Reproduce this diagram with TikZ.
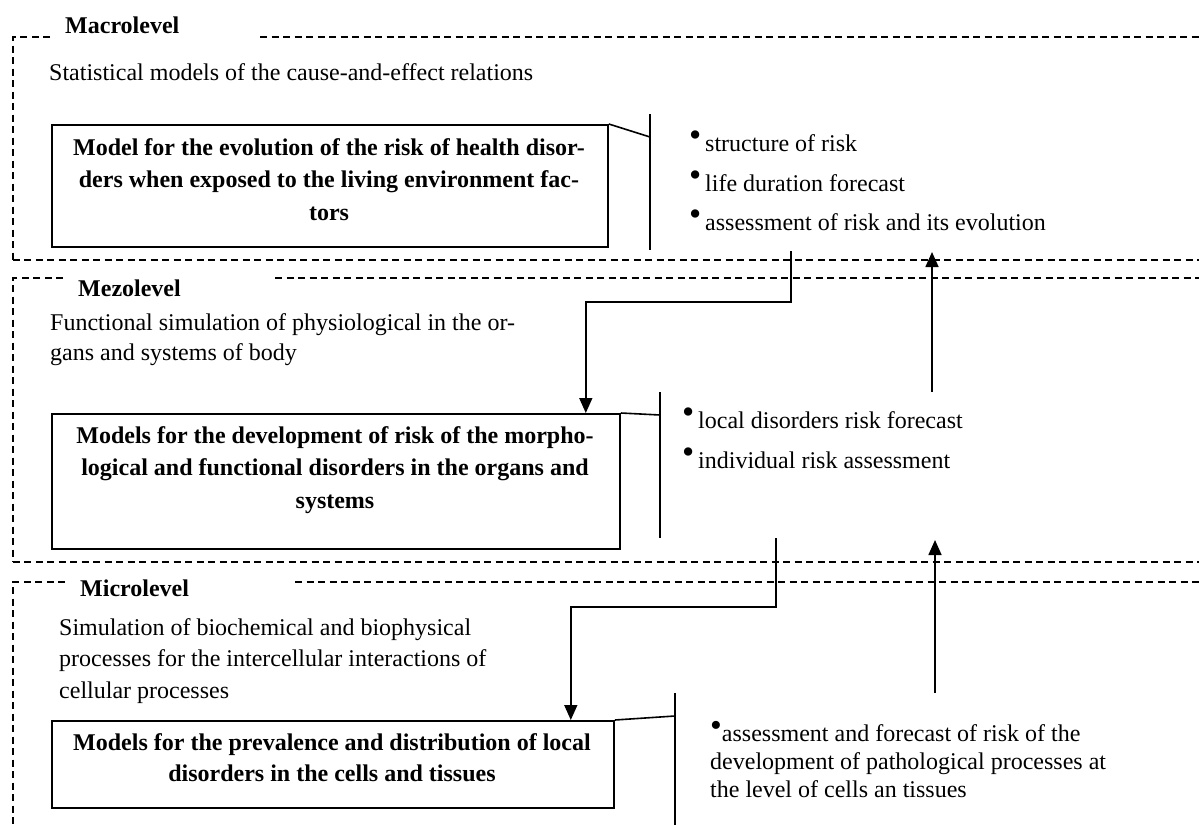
\documentclass[tikz,border=0pt]{standalone}
\usepackage{fontspec}
\setmainfont{Liberation Serif}
\usetikzlibrary{arrows.meta}
\newcommand\mybul{\makebox[16pt][l]{\raisebox{5pt}{\scalebox{1.45}{\textbullet}}}}
\begin{document}
\begin{tikzpicture}[x=1pt,y=-1pt,
  frame/.style={line width=1.8pt,dash pattern=on 7pt off 4.5pt},
  modelbox/.style={draw,line width=1.8pt,rectangle,inner sep=0pt,anchor=north west},
  boxtext/.style={font=\fontsize{24}{32.5}\selectfont\bfseries,align=center,anchor=north,inner sep=0pt},
  txt/.style={font=\fontsize{24}{30}\selectfont,inner sep=0pt},
  lvl/.style={font=\fontsize{24}{30}\selectfont\bfseries,inner sep=0pt,anchor=base west},
  link/.style={line width=1.6pt},
  arr/.style={line width=1.6pt,-{Triangle[width=13pt,length=15pt]}},
]
\useasboundingbox (0,0) rectangle (1199,825);

% ---------- level frames ----------
\draw[frame] (50,37) -- (12.6,37) -- (12.6,260);
\draw[frame] (260,37) -- (1199,37);
\draw[frame] (12.6,260) -- (1199,260);
\draw[frame] (63,278) -- (12.6,278) -- (12.6,562);
\draw[frame] (275,278) -- (1199,278);
\draw[frame] (12.6,562) -- (1199,562);
\draw[frame] (65,582) -- (12.6,582) -- (12.6,825);
\draw[frame] (295,582) -- (1199,582);

% ---------- level labels ----------
\node[lvl] (macro) at (65,33) {Macrolevel};
\node[lvl] (mezo) at (78,296) {Mezolevel};
\node[lvl] (micro) at (80,596) {Microlevel};

% ---------- level descriptions ----------
\node[txt,anchor=base west] (d1) at (49,80) {Statistical models of the cause-and-effect relations};
\node[txt,anchor=north west,align=left] (d2) at (50,313)
  {Functional simulation of physiological in the or-\\gans and systems of body};
\node[txt,font=\fontsize{24}{31.5}\selectfont,anchor=north west,align=left] (d3) at (59,618)
  {Simulation of biochemical and biophysical\\processes for the intercellular interactions of\\cellular processes};

% ---------- model boxes ----------
\node[modelbox,minimum width=556pt,minimum height=122pt] (box1) at (51,124) {};
\node[boxtext] (t1) at (329,138) {Model for the evolution of the risk of health disor-\\ders when exposed to the living environment fac-\\tors};
\node[modelbox,minimum width=568pt,minimum height=135pt] (box2) at (51,413) {};
\node[boxtext] (t2) at (335,426) {Models for the development of risk of the morpho-\\logical and functional disorders in the organs and\\systems};
\node[modelbox,minimum width=562pt,minimum height=87pt] (box3) at (51,720) {};
\node[boxtext,font=\fontsize{24}{31}\selectfont\bfseries] (t3) at (332,733) {Models for the prevalence and distribution of local\\disorders in the cells and tissues};

% ---------- result brackets ----------
\coordinate (b1t) at (650,114); \coordinate (b1b) at (650,250); \coordinate (b1j) at (650,137);
\coordinate (b2t) at (660,392); \coordinate (b2b) at (660,538); \coordinate (b2j) at (660,415);
\coordinate (b3t) at (675,693); \coordinate (b3b) at (675,825); \coordinate (b3j) at (675,716);
\draw[link] (b1t) -- (b1b);
\draw[link] (box1.north east) -- (b1j);
\draw[link] (b2t) -- (b2b);
\draw[link] (box2.north east) -- (b2j);
\draw[link] (b3t) -- (b3b);
\draw[link] (box3.north east) -- (b3j);

% ---------- results ----------
\node[txt,anchor=base west] (r11) at (689,151) {\mybul structure of risk};
\node[txt,anchor=base west] (r12) at (689,191) {\mybul life duration forecast};
\node[txt,anchor=base west] (r13) at (689,230) {\mybul assessment of risk and its evolution};
\node[txt,anchor=base west] (r21) at (682,428) {\mybul local disorders risk forecast};
\node[txt,anchor=base west] (r22) at (682,468) {\mybul individual risk assessment};
\node[txt,font=\fontsize{24}{28}\selectfont,anchor=north west,align=left] (r31) at (710,721)
  {\raisebox{5pt}{\scalebox{1.4}{\textbullet}}assessment and forecast of risk of the\\development of pathological processes at\\the level of cells an tissues};

% ---------- flows ----------
\coordinate (aA) at (791,251);
\coordinate (aB) at (776,538);
\draw[arr] (aA) -- ++(0,51) -| ([xshift=-35pt]box2.north east);
\draw[arr] (aB) -- ++(0,69) -| ([xshift=-44pt]box3.north east);
\coordinate (u1s) at (932,392); \coordinate (u1e) at (932,252);
\coordinate (u2s) at (935,693); \coordinate (u2e) at (935,540);
\draw[arr] (u1s) -- (u1e);
\draw[arr] (u2s) -- (u2e);
\end{tikzpicture}
\end{document}
